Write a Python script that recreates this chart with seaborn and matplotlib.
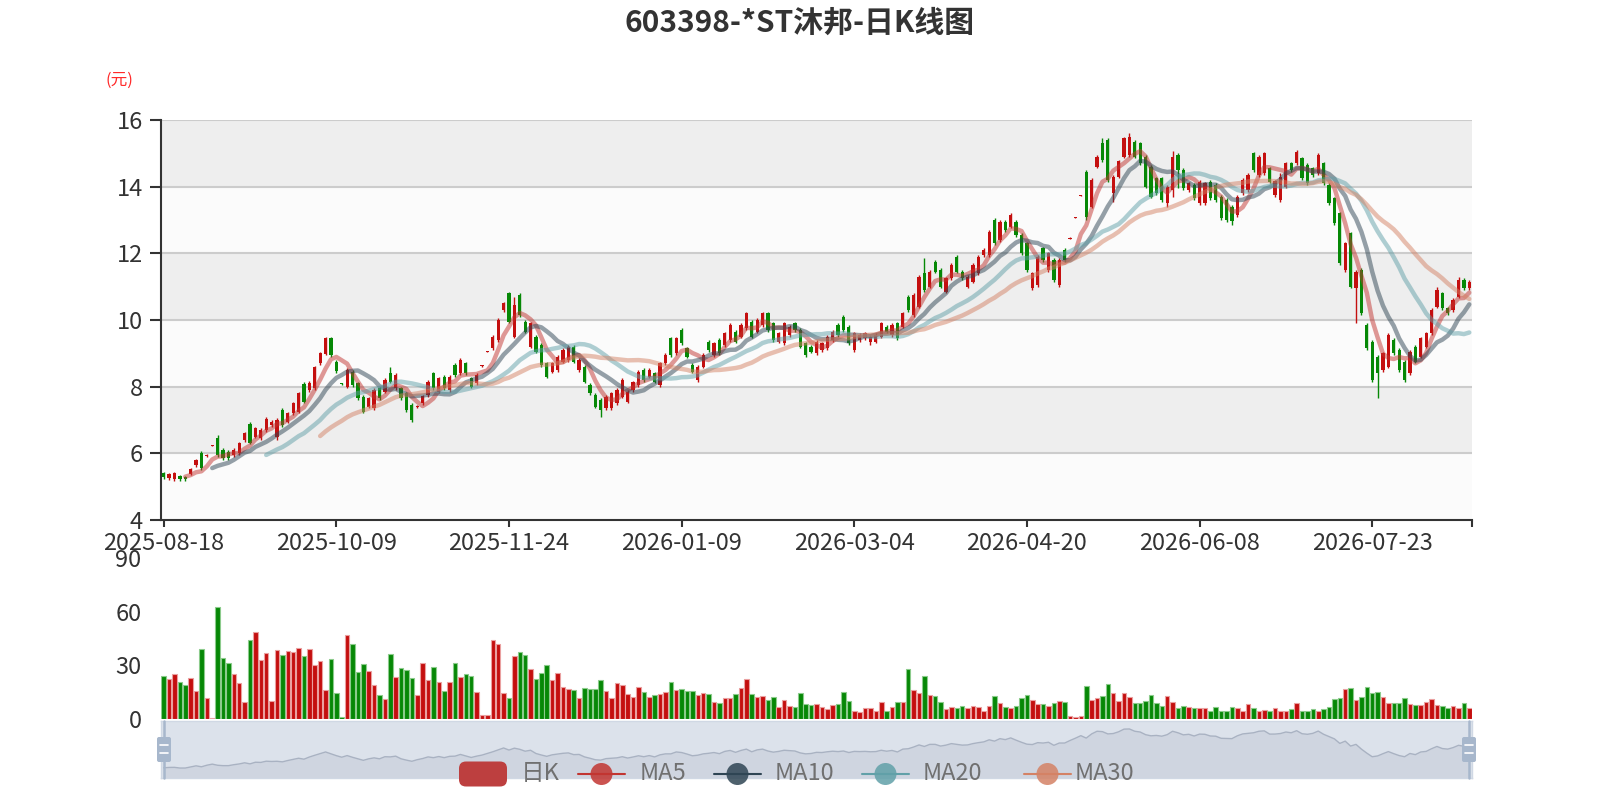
import numpy as np
import pandas as pd
import matplotlib
matplotlib.use("Agg")
import matplotlib.pyplot as plt
from matplotlib.patches import FancyBboxPatch, Circle
from matplotlib.lines import Line2D
import seaborn as sns

title = "603398-*ST沐邦-日K线图"
date_ticks = ["2025-08-18", "2025-10-09", "2025-11-24", "2026-01-09",
              "2026-03-04", "2026-04-20", "2026-06-08", "2026-07-23"]
tick_step = 32

opens = [
    5.40, 5.25, 5.22, 5.32, 5.30, 5.38, 5.65, 6.02, 5.92, 6.22,
    6.45, 6.10, 6.05, 5.95, 6.00, 6.40, 6.88, 6.50, 6.45, 6.70,
    6.85, 6.50, 7.30, 6.95, 7.20, 7.25, 8.08, 7.90, 7.95, 8.70,
    8.98, 9.45, 8.75, 8.09, 8.00, 8.45, 8.10, 7.70, 7.40, 7.35,
    7.95, 7.85, 8.40, 7.95, 7.95, 7.80, 7.45, 7.38, 7.50, 7.75,
    8.40, 7.85, 8.30, 7.90, 8.65, 8.40, 8.70, 8.25, 8.10, 8.61,
    9.04, 9.15, 9.40, 10.30, 10.80, 9.50, 10.75, 9.95, 9.20, 9.50,
    9.25, 8.70, 8.45, 8.50, 8.75, 8.80, 9.20, 8.50, 8.60, 8.05,
    7.75, 7.60, 7.35, 7.35, 7.50, 7.70, 7.55, 7.90, 8.05, 8.50,
    8.30, 8.40, 8.05, 8.70, 9.45, 9.00, 9.70, 9.15, 8.65, 8.20,
    8.60, 9.35, 8.95, 9.40, 9.25, 9.40, 9.65, 9.50, 9.75, 9.95,
    9.65, 9.85, 10.20, 9.90, 9.35, 9.30, 9.55, 9.90, 9.70, 9.30,
    9.20, 9.00, 9.10, 9.15, 9.40, 9.85, 10.10, 9.80, 9.10, 9.40,
    9.45, 9.35, 9.35, 9.50, 9.80, 9.55, 9.90, 9.80, 10.70, 10.15,
    10.40, 11.40, 11.00, 11.75, 11.50, 10.85, 11.25, 11.90, 11.45, 11.00,
    11.15, 11.40, 11.95, 11.95, 13.00, 12.40, 12.95, 12.80, 12.95, 12.55,
    12.30, 10.95, 11.05, 12.15, 11.50, 11.80, 11.05, 12.10, 12.43, 13.06,
    13.72, 14.45, 13.40, 14.60, 15.30, 15.40, 13.80, 14.30, 14.90, 14.95,
    15.35, 15.30, 14.90, 14.60, 14.25, 14.25, 13.50, 13.90, 14.95, 14.50,
    13.90, 14.05, 13.50, 13.50, 14.15, 14.05, 13.70, 13.60, 13.40, 13.15,
    13.80, 13.90, 15.00, 14.35, 14.40, 14.55, 13.76, 13.60, 14.00, 14.70,
    14.70, 14.85, 14.65, 14.55, 14.40, 14.70, 14.05, 13.65, 13.20, 11.50,
    12.60, 10.95, 11.50, 9.85, 9.35, 8.90, 8.50, 8.60, 9.40, 9.10,
    8.75, 8.40, 9.20, 8.90, 9.20, 9.60, 10.40, 10.80, 10.35, 10.30,
    10.70, 11.20, 10.95,
]
closes = [
    5.28, 5.38, 5.40, 5.22, 5.22, 5.52, 5.80, 5.55, 5.96, 6.25,
    5.95, 5.85, 5.85, 6.10, 6.30, 6.60, 6.32, 6.75, 6.70, 7.02,
    6.95, 7.00, 6.85, 7.20, 7.50, 7.80, 7.55, 8.12, 8.58, 9.00,
    9.45, 8.95, 8.48, 8.07, 8.50, 8.05, 7.65, 7.25, 7.65, 7.90,
    7.65, 8.20, 8.15, 8.35, 7.65, 7.30, 7.00, 7.42, 7.72, 8.15,
    7.95, 8.25, 7.95, 8.30, 8.35, 8.80, 8.40, 8.00, 8.35, 8.63,
    9.06, 9.50, 10.00, 10.50, 9.95, 10.45, 10.15, 9.65, 9.90, 9.05,
    8.65, 8.30, 8.70, 8.90, 9.10, 9.20, 8.75, 8.80, 8.15, 7.80,
    7.40, 7.30, 7.70, 7.80, 7.90, 8.20, 7.85, 8.13, 8.45, 8.20,
    8.50, 8.15, 8.70, 8.95, 8.95, 9.45, 9.30, 8.90, 8.45, 8.60,
    8.95, 9.10, 9.30, 9.00, 9.60, 9.85, 9.35, 9.85, 10.20, 9.50,
    10.00, 10.20, 9.70, 9.40, 9.60, 9.90, 9.80, 9.70, 9.20, 8.95,
    9.05, 9.35, 9.30, 9.50, 9.65, 9.55, 9.70, 9.30, 9.60, 9.55,
    9.60, 9.50, 9.55, 9.90, 9.65, 9.85, 9.45, 10.20, 10.30, 10.75,
    11.30, 10.90, 11.45, 11.45, 11.00, 11.25, 11.65, 11.45, 11.25, 11.30,
    11.65, 11.90, 12.10, 12.65, 12.30, 12.95, 12.70, 13.15, 12.55, 12.00,
    11.50, 11.40, 11.90, 11.80, 12.00, 11.20, 11.80, 11.80, 12.47, 13.08,
    13.74, 13.10, 14.20, 14.90, 14.80, 14.20, 14.30, 14.76, 15.46, 15.50,
    14.90, 14.70, 14.00, 13.70, 13.80, 13.60, 14.00, 14.90, 14.50, 13.95,
    14.10, 13.65, 14.15, 14.10, 13.65, 13.60, 13.05, 13.00, 12.96, 13.70,
    14.20, 14.35, 14.50, 14.90, 15.00, 14.15, 14.16, 14.30, 14.70, 14.50,
    15.05, 14.25, 14.10, 14.35, 14.95, 14.10, 13.50, 12.90, 11.70, 12.30,
    11.00, 11.45, 10.20, 9.15, 8.20, 8.40, 9.00, 9.55, 9.00, 8.50,
    8.20, 9.05, 8.75, 9.45, 9.60, 10.30, 10.90, 10.35, 10.20, 10.60,
    11.20, 10.95, 11.15,
]
highs = [
    5.45, 5.42, 5.44, 5.35, 5.33, 5.56, 5.84, 6.08, 5.98, 6.26,
    6.55, 6.15, 6.10, 6.15, 6.35, 6.65, 6.95, 6.80, 6.75, 7.08,
    7.00, 7.05, 7.35, 7.25, 7.55, 7.85, 8.15, 8.18, 8.62, 9.05,
    9.48, 9.48, 8.80, 8.10, 8.55, 8.50, 8.15, 7.75, 7.70, 7.95,
    8.00, 8.25, 8.60, 8.40, 8.00, 7.85, 7.50, 7.44, 7.76, 8.20,
    8.45, 8.30, 8.35, 8.35, 8.70, 8.85, 8.75, 8.30, 8.40, 8.64,
    9.07, 9.55, 10.05, 10.55, 10.85, 10.70, 10.80, 10.00, 9.95, 9.55,
    9.30, 8.75, 8.75, 8.95, 9.15, 9.25, 9.25, 8.85, 8.65, 8.10,
    7.80, 7.65, 7.75, 7.85, 7.95, 8.25, 7.90, 8.18, 8.50, 8.55,
    8.55, 8.45, 8.75, 9.00, 9.50, 9.50, 9.75, 9.20, 8.70, 8.65,
    9.00, 9.40, 9.35, 9.45, 9.65, 9.90, 9.70, 9.90, 10.25, 10.00,
    10.05, 10.25, 10.25, 9.95, 9.65, 9.95, 9.85, 9.95, 9.75, 9.35,
    9.25, 9.40, 9.35, 9.55, 9.70, 9.90, 10.15, 9.85, 9.65, 9.60,
    9.65, 9.55, 9.60, 9.95, 9.85, 9.90, 9.95, 10.25, 10.75, 10.80,
    11.35, 11.85, 11.50, 11.80, 11.55, 11.30, 11.70, 11.95, 11.50, 11.35,
    11.70, 11.95, 12.15, 12.70, 13.05, 13.00, 13.00, 13.20, 13.00, 12.60,
    12.35, 11.45, 11.95, 12.20, 12.05, 11.85, 11.85, 12.15, 12.48, 13.09,
    13.75, 14.50, 14.25, 14.95, 15.46, 15.45, 14.35, 14.80, 15.50, 15.60,
    15.40, 15.35, 14.95, 14.65, 14.30, 14.30, 14.05, 15.06, 15.00, 14.55,
    14.15, 14.10, 14.20, 14.15, 14.20, 14.10, 13.75, 13.65, 13.45, 13.75,
    14.25, 14.40, 15.05, 14.95, 15.05, 14.60, 14.20, 14.40, 14.75, 14.75,
    15.10, 14.90, 14.70, 14.60, 15.00, 14.75, 14.10, 13.70, 13.25, 12.35,
    12.65, 11.50, 11.55, 9.90, 9.40, 8.95, 9.05, 9.60, 9.45, 9.15,
    8.80, 9.10, 9.25, 9.50, 9.65, 10.35, 11.00, 10.85, 10.40, 10.65,
    11.30, 11.25, 11.20,
]
lows = [
    5.22, 5.20, 5.18, 5.18, 5.17, 5.34, 5.60, 5.50, 5.90, 6.21,
    5.90, 5.80, 5.80, 5.90, 5.95, 6.35, 6.28, 6.45, 6.40, 6.65,
    6.80, 6.40, 6.80, 6.90, 7.15, 7.20, 7.50, 7.85, 7.90, 8.65,
    8.95, 8.90, 8.42, 8.06, 7.95, 8.00, 7.60, 7.20, 7.35, 7.30,
    7.60, 7.80, 8.10, 7.90, 7.60, 7.25, 6.95, 7.36, 7.45, 7.70,
    7.90, 7.80, 7.90, 7.85, 8.30, 8.35, 8.35, 7.95, 8.05, 8.60,
    9.03, 9.10, 9.35, 10.25, 9.90, 9.45, 10.10, 9.60, 9.15, 9.00,
    8.60, 8.25, 8.40, 8.45, 8.70, 8.75, 8.70, 8.45, 8.10, 7.75,
    7.35, 7.10, 7.30, 7.30, 7.45, 7.65, 7.50, 7.85, 8.00, 8.15,
    8.25, 8.10, 8.00, 8.65, 8.90, 8.95, 9.25, 8.85, 8.40, 8.15,
    8.55, 9.05, 8.90, 8.95, 9.20, 9.35, 9.30, 9.45, 9.70, 9.45,
    9.60, 9.80, 9.65, 9.35, 9.30, 9.25, 9.50, 9.65, 9.15, 8.90,
    9.00, 8.95, 9.05, 9.10, 9.35, 9.50, 9.65, 9.25, 9.05, 9.35,
    9.40, 9.25, 9.30, 9.45, 9.60, 9.50, 9.40, 9.75, 10.25, 10.10,
    10.35, 10.85, 10.95, 11.40, 10.95, 10.80, 11.20, 11.40, 11.20, 10.95,
    11.10, 11.35, 11.90, 11.90, 12.25, 12.35, 12.65, 12.75, 12.50, 11.95,
    11.45, 10.90, 11.00, 11.75, 11.45, 11.15, 11.00, 11.75, 12.42, 13.05,
    13.71, 13.00, 13.35, 14.55, 14.75, 14.15, 13.55, 14.25, 14.85, 14.90,
    14.85, 14.65, 13.95, 13.65, 13.75, 13.55, 13.40, 13.70, 13.95, 13.90,
    13.85, 13.60, 13.45, 13.45, 13.60, 13.55, 13.00, 12.95, 12.85, 13.10,
    13.75, 13.85, 14.45, 14.30, 14.35, 14.10, 13.70, 13.55, 13.95, 14.45,
    14.65, 14.20, 14.05, 14.30, 14.35, 14.05, 13.45, 12.85, 11.65, 11.45,
    10.95, 9.90, 10.15, 9.10, 8.15, 7.66, 8.45, 8.55, 8.95, 8.45,
    8.15, 8.35, 8.70, 8.85, 9.15, 9.55, 10.35, 10.30, 10.15, 10.25,
    10.65, 10.90, 10.90,
]
volumes = [
    24.1, 22.4, 25.2, 20.9, 19.2, 22.8, 15.9, 39.0, 11.9, 0.8,
    62.7, 34.0, 31.2, 25.4, 20.0, 9.3, 44.4, 48.7, 33.0, 37.0,
    10.0, 38.4, 35.8, 38.2, 37.3, 39.6, 35.3, 39.2, 30.2, 32.3,
    16.0, 33.8, 14.4, 1.0, 47.0, 42.2, 26.1, 30.8, 26.9, 18.8,
    13.4, 11.2, 36.2, 23.3, 28.4, 27.2, 22.8, 13.4, 31.2, 21.8,
    28.9, 20.5, 15.7, 20.5, 31.2, 23.3, 25.0, 24.1, 14.9, 2.0,
    2.5, 44.0, 41.8, 14.4, 11.6, 35.1, 37.5, 35.8, 27.8, 22.4,
    25.5, 30.2, 21.8, 25.9, 18.1, 16.8, 16.2, 11.6, 17.5, 17.0,
    16.8, 21.8, 15.8, 11.6, 20.3, 19.0, 13.8, 12.3, 18.1, 15.3,
    12.1, 13.4, 14.0, 15.1, 20.9, 16.4, 16.8, 15.8, 15.8, 13.6,
    14.3, 13.8, 9.5, 8.8, 11.6, 11.6, 14.0, 17.2, 22.2, 14.0,
    12.1, 12.9, 10.4, 12.1, 6.9, 10.4, 7.1, 6.5, 14.3, 8.2,
    7.8, 8.2, 6.5, 5.8, 8.0, 8.4, 15.1, 9.9, 4.5, 4.0,
    6.0, 5.9, 4.5, 9.7, 4.5, 6.9, 9.5, 9.5, 27.8, 16.2,
    14.3, 24.1, 13.2, 12.9, 9.5, 5.6, 6.5, 5.9, 7.3, 5.9,
    7.3, 6.5, 4.5, 7.3, 13.0, 8.8, 6.9, 6.0, 7.1, 11.6,
    13.6, 10.8, 8.6, 8.2, 7.1, 8.8, 9.9, 9.3, 1.5, 1.0,
    1.5, 18.5, 10.6, 11.9, 13.0, 19.4, 14.7, 10.1, 14.3, 12.1,
    8.8, 8.8, 9.9, 13.2, 8.8, 7.3, 12.7, 9.3, 6.0, 7.1,
    6.5, 6.0, 6.0, 6.0, 4.5, 6.9, 4.5, 4.5, 6.5, 6.3,
    4.5, 8.6, 6.0, 4.5, 5.2, 4.5, 6.0, 4.5, 4.5, 5.6,
    8.8, 4.5, 4.5, 5.4, 4.5, 5.6, 6.5, 11.4, 11.6, 16.6,
    17.5, 10.4, 12.1, 17.7, 14.3, 15.3, 12.1, 8.8, 8.8, 8.8,
    11.9, 8.2, 7.6, 7.6, 9.5, 11.0, 7.6, 7.0, 6.0, 7.0,
    6.0, 9.0, 6.0,
]

ma_windows = [5, 10, 20, 30]
ma_names = ["MA5", "MA10", "MA20", "MA30"]
ma_colors = ["#c23531", "#2f4554", "#61a0a8", "#d48265"]
up_color, down_color = "#c40f0f", "#068806"
up_edge, down_edge = "#eaa0a0", "#8ccb8c"

sns.set_theme(style="white")
plt.rcParams["font.family"] = ["Noto Sans CJK SC", "DejaVu Sans"]
plt.rcParams["axes.unicode_minus"] = False

df = pd.DataFrame({"open": opens, "close": closes, "high": highs,
                   "low": lows, "volume": volumes})
df["idx"] = np.arange(len(df))
n = len(df)
is_up = df["close"] >= df["open"]
body_colors = np.where(is_up, up_color, down_color)
edge_colors = np.where(is_up, up_edge, down_edge)

W, H = 1600, 800
def box(x0, y0, x1, y1):
    return [x0 / W, 1 - y1 / H, (x1 - x0) / W, (y1 - y0) / H]

fig = plt.figure(figsize=(16, 8), dpi=100)
fig.patch.set_facecolor("white")
ax = fig.add_axes(box(161, 120, 1472, 520))
axv = fig.add_axes(box(161, 558, 1472, 719))
axs = fig.add_axes(box(161, 721, 1472, 778))

# price panel
ax.set_xlim(-0.5, n - 0.5)
ax.set_ylim(4, 16)
for k, lo in enumerate(range(4, 16, 2)):
    ax.axhspan(lo, lo + 2, color="#fbfbfb" if k % 2 == 0 else "#eeeeee", lw=0, zorder=0)
for lv in range(6, 17, 2):
    ax.axhline(lv, color="#cccccc", lw=1.5, zorder=1)

ax.vlines(df["idx"], df["low"], df["high"], colors=body_colors, lw=1.0, zorder=2)
body_h = np.maximum((df["close"] - df["open"]).abs(), 0.03)
ax.bar(df["idx"], body_h, bottom=np.minimum(df["open"], df["close"]),
       width=0.6, color=body_colors, lw=0, zorder=3)

for w, c in zip(ma_windows, ma_colors):
    ma = df["close"].rolling(w).mean()
    sns.lineplot(x=df["idx"], y=ma, ax=ax, color=c, alpha=0.5, linewidth=3.2, zorder=4)

ax.set_xlabel("")
ax.set_ylabel("")
ax.set_yticks(range(4, 17, 2))
ax.set_xticks(range(0, n, tick_step)[:len(date_ticks)])
ax.set_xticklabels(date_ticks)
ax.set_xticks([n - 0.5], minor=True)
ax.tick_params(axis="y", left=True, length=8, width=1.5, color="#333333",
               pad=5, labelsize=17, labelcolor="#333333")
ax.tick_params(axis="x", which="both", bottom=True, length=5, width=1.5,
               color="#333333", pad=4, labelsize=17, labelcolor="#333333")
for s in ["top", "right"]:
    ax.spines[s].set_visible(False)
for s in ["left", "bottom"]:
    ax.spines[s].set_color("#333333")
    ax.spines[s].set_linewidth(1.5)
ax.grid(False)

# volume panel
axv.bar(df["idx"], df["volume"], width=0.84, color=body_colors,
        edgecolor=edge_colors, linewidth=0.8)
axv.set_xlim(-0.5, n - 0.5)
axv.set_ylim(0, 90)
axv.set_yticks([0, 30, 60, 90])
axv.set_xticks([])
axv.tick_params(axis="y", length=0, pad=14, labelsize=17, labelcolor="#333333")
for s in axv.spines.values():
    s.set_visible(False)
axv.set_facecolor("none")
axv.grid(False)

# slider panel
axs.set_facecolor("#dce2eb")
axs.set_xlim(-0.5, n - 0.5)
axs.set_ylim(2.6, 17.6)
axs.fill_between(df["idx"], df["close"], 2.6, color="#cfd5e0", lw=0)
sns.lineplot(x=df["idx"], y=df["close"], ax=axs, color="#a9b2c2", linewidth=1.0)
axs.set_xlabel("")
axs.set_ylabel("")
axs.set_xticks([])
axs.set_yticks([])
for s in axs.spines.values():
    s.set_color("#d0d8e4")
    s.set_linewidth(1)

# overlay in pixel coordinates
ov = fig.add_axes([0, 0, 1, 1])
ov.set_xlim(0, W)
ov.set_ylim(H, 0)
ov.axis("off")

for hx in [164, 1469]:
    ov.add_line(Line2D([hx, hx], [721, 778], color="#a7b7cc", lw=1.8))
    ov.add_patch(FancyBboxPatch((hx - 7, 737), 14, 25,
                                boxstyle="round,pad=0,rounding_size=2",
                                fc="#a7b7cc", ec="none"))
    for yy in [745, 753]:
        ov.add_line(Line2D([hx - 4, hx + 4], [yy, yy], color="white", lw=1.2))

fig.text(0.5, 1 - 23 / H, title, ha="center", va="center", fontsize=21.5,
         fontweight="bold", color="#333333")
fig.text(119 / W, 1 - 80 / H, "(元)", ha="center", va="center",
         fontsize=12, color="#ff2a2a")

# legend
leg_y = 774
ov.add_patch(FancyBboxPatch((459, leg_y - 12.5), 48, 25,
                            boxstyle="round,pad=0,rounding_size=7",
                            fc="#bd3f3f", ec="none"))
ov.text(521, leg_y, "日K", ha="left", va="center", fontsize=17, color="#707070")
icon_x = [578, 714, 862, 1024]
text_x = [640, 775, 923, 1075]
for name, c, ix, tx in zip(ma_names, ma_colors, icon_x, text_x):
    ov.add_line(Line2D([ix, ix + 47], [leg_y, leg_y], color=c, lw=1.5))
    ov.add_patch(Circle((ix + 23.5, leg_y), 11, fc=c, ec="none", alpha=0.85))
    ov.text(tx, leg_y, name, ha="left", va="center", fontsize=17, color="#707070")

fig.savefig("out.png", dpi=100)
